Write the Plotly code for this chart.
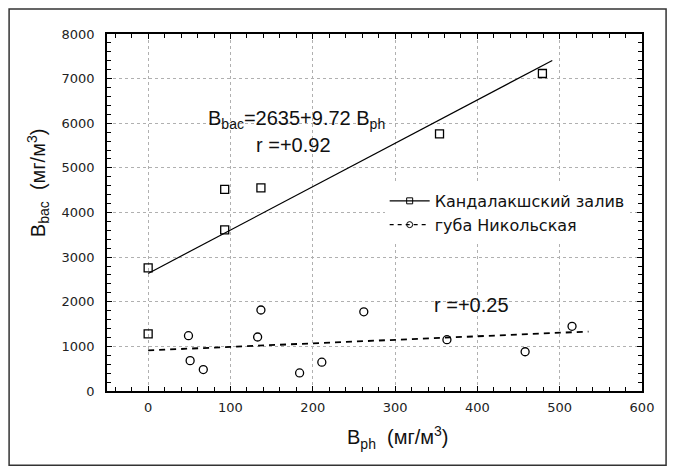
import plotly.graph_objects as go

# Кандалакшский залив: biomass of phytoplankton vs bacteria (мг/м3)
kand_ph = [0, 0, 93, 93, 137, 354, 479]
kand_bac = [2760, 1280, 4520, 3610, 4550, 5760, 7115]

# губа Никольская
nik_ph = [49, 51, 67, 133, 137, 184, 211, 262, 363, 458, 515]
nik_bac = [1240, 680, 480, 1210, 1815, 405, 645, 1775, 1150, 880, 1450]

# regression lines (end points of the fitted ranges)
kand_fit_x = [0, 491]
kand_a, kand_b = 2635, 9.72
nik_fit_x = [0, 535]
nik_a, nik_b = 910, 0.79

TEXT_FONT = "Liberation Sans, Arial, sans-serif"
TICK_FONT = "DejaVu Sans, Verdana, sans-serif"

fig = go.Figure()

fig.add_trace(go.Scatter(
    x=kand_fit_x, y=[kand_a + kand_b * v for v in kand_fit_x],
    mode="lines", line=dict(color="black", width=1.2), showlegend=False))
fig.add_trace(go.Scatter(
    x=nik_fit_x, y=[nik_a + nik_b * v for v in nik_fit_x],
    mode="lines", line=dict(color="black", width=1.8, dash="6px,5px"), showlegend=False))
fig.add_trace(go.Scatter(
    x=kand_ph, y=kand_bac, mode="markers",
    marker=dict(symbol="square-open", size=8, color="black", line=dict(width=1.3)),
    showlegend=False))
fig.add_trace(go.Scatter(
    x=nik_ph, y=nik_bac, mode="markers",
    marker=dict(symbol="circle-open", size=8, color="black", line=dict(width=1.3)),
    showlegend=False))

# legend entries
fig.add_trace(go.Scatter(
    x=[None], y=[None], mode="lines+markers", name="Кандалакшский залив",
    line=dict(color="black", width=1.2),
    marker=dict(symbol="square-open", size=6, color="black")))
fig.add_trace(go.Scatter(
    x=[None], y=[None], mode="lines+markers", name="губа Никольская",
    line=dict(color="black", width=1.2, dash="4px,4px"),
    marker=dict(symbol="circle-open", size=6, color="black")))

axis_common = dict(
    showline=True, linecolor="black", linewidth=1.6, mirror="allticks",
    ticks="inside", ticklen=5, tickcolor="black", tickwidth=1.2,
    showgrid=True, gridcolor="#b0b0b0", griddash="dot", gridwidth=1,
    zeroline=False, tickfont=dict(family=TICK_FONT, size=13, color="#222"),
)

fig.update_xaxes(range=[-50, 600], dtick=100, tick0=0, ticklabelstandoff=4,
                 minor=dict(dtick=20, ticks="inside", ticklen=4, tickwidth=1.2,
                            tickcolor="black", showgrid=False),
                 **axis_common)
fig.update_yaxes(range=[0, 8000], dtick=1000, ticklabelstandoff=8,
                 minor=dict(dtick=200, ticks="inside", ticklen=4, tickwidth=1.2,
                            tickcolor="black", showgrid=False),
                 **axis_common)

fig.add_annotation(x=180, y=6090, xref="x", yref="y", showarrow=False,
                   xanchor="center", yanchor="middle",
                   text="B<sub>bac</sub>=2635+9.72 B<sub>ph</sub>",
                   font=dict(family=TEXT_FONT, size=20, color="#111"))
fig.add_annotation(x=176, y=5510, xref="x", yref="y", showarrow=False,
                   xanchor="center", yanchor="middle",
                   text="r =+0.92", font=dict(family=TEXT_FONT, size=20, color="#111"))
fig.add_annotation(x=393, y=1930, xref="x", yref="y", showarrow=False,
                   xanchor="center", yanchor="middle",
                   text="r =+0.25", font=dict(family=TEXT_FONT, size=20, color="#111"))

# axis titles
fig.add_annotation(x=-0.129, y=0.585, xref="paper", yref="paper", showarrow=False,
                   xanchor="center", yanchor="middle", textangle=-90,
                   text="B<sub>bac</sub>  (мг/м<sup>3</sup>)",
                   font=dict(family=TEXT_FONT, size=20, color="#111"))
fig.add_annotation(x=0.544, y=-0.129, xref="paper", yref="paper", showarrow=False,
                   xanchor="center", yanchor="middle",
                   text="B<sub>ph</sub>  (мг/м<sup>3</sup>)",
                   font=dict(family=TEXT_FONT, size=20, color="#111"))

# outer frame
fig.add_shape(type="rect", xref="paper", yref="paper",
              x0=-0.183, x1=1.045, y0=-0.208, y1=1.07,
              line=dict(color="#333", width=1.5))

fig.update_layout(
    width=676, height=469,
    margin=dict(l=107, r=34, t=34, b=78),
    paper_bgcolor="white", plot_bgcolor="white",
    legend=dict(x=0.519, y=0.58, xanchor="left", yanchor="top",
                bgcolor="white", font=dict(family=TICK_FONT, size=16, color="#111"),
                tracegroupgap=0, itemwidth=40),
)

fig.write_html("out.html")
